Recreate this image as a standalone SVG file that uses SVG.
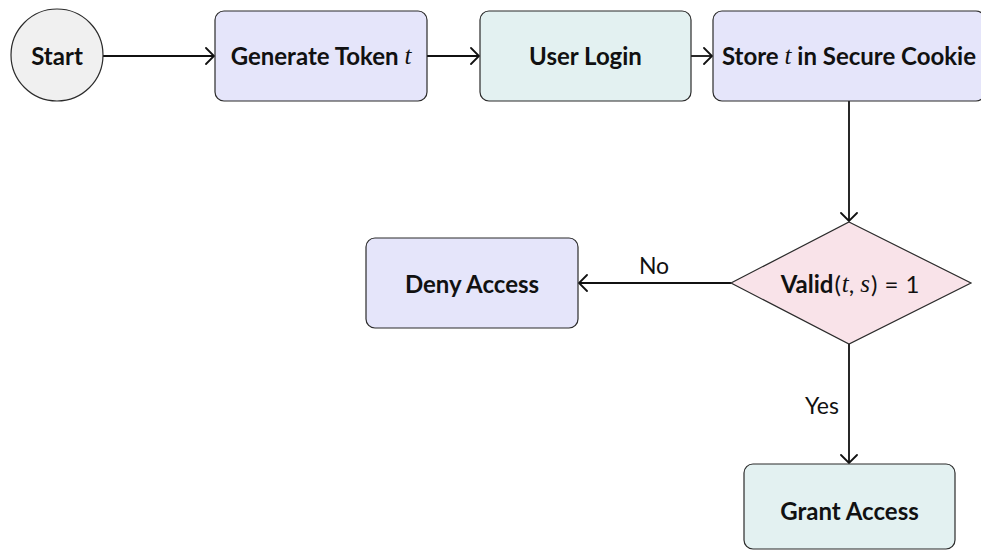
<svg xmlns="http://www.w3.org/2000/svg" width="981" height="550" viewBox="0 0 981 550">
  <style>
    .node { stroke: #2b2b2b; stroke-width: 1.2; }
    .gray { fill: #f0f0f0; }
    .lav { fill: #e5e5fa; }
    .cyan { fill: #e3f1f1; }
    .pink { fill: #f9e3e9; }
    .lbl { font-family: Lato, "Noto Sans", sans-serif; font-size: 24px; font-weight: bold; fill: #111; text-anchor: middle; dominant-baseline: central; }
    .math { font-family: "Liberation Serif", serif; font-style: italic; font-weight: normal; font-size: 25px; }
    .up { font-weight: normal; }
    .edge { stroke: #111; stroke-width: 1.8; fill: none; marker-end: url(#to); }
    .elbl { font-family: Lato, "Noto Sans", sans-serif; font-size: 23px; fill: #111; }
  </style>
  <defs>
    <!-- open, curved "to" style arrow tip -->
    <marker id="to" viewBox="-10 -9 12 18" markerWidth="12" markerHeight="18" refX="0" refY="0" orient="auto" markerUnits="userSpaceOnUse">
      <path d="M -8 -8 Q -1.5 -1.5 0 0 Q -1.5 1.5 -8 8" fill="none" stroke="#111" stroke-width="1.8" stroke-linecap="round"/>
    </marker>
  </defs>

  <g id="connectors">
    <line class="edge" x1="103" y1="56" x2="214" y2="56"/>
    <line class="edge" x1="427" y1="56" x2="479" y2="56"/>
    <line class="edge" x1="691" y1="56" x2="712" y2="56"/>
    <line class="edge" x1="849" y1="101" x2="849" y2="221"/>
    <line class="edge" x1="731" y1="283" x2="579" y2="283"/>
    <text class="elbl" x="654" y="274" text-anchor="middle">No</text>
    <line class="edge" x1="849" y1="344" x2="849" y2="463"/>
    <text class="elbl" x="822" y="414" text-anchor="middle">Yes</text>
  </g>

  <g id="start">
    <circle class="node gray" cx="57" cy="55" r="46"/>
    <text class="lbl" x="57" y="55">Start</text>
  </g>

  <g id="generate-token">
    <rect class="node lav" x="215" y="11" width="212" height="90" rx="9"/>
    <text class="lbl" x="321" y="55">Generate Token <tspan class="math">t</tspan></text>
  </g>

  <g id="user-login">
    <rect class="node cyan" x="480" y="11" width="211" height="90" rx="9"/>
    <text class="lbl" x="585.5" y="55">User Login</text>
  </g>

  <g id="store-cookie">
    <rect class="node lav" x="713" y="11" width="272" height="90" rx="9"/>
    <text class="lbl" x="849" y="55">Store <tspan class="math">t</tspan> in Secure Cookie</text>
  </g>

  <g id="validate">
    <polygon class="node pink" points="849,222 971,283 849,344 731,283"/>
    <text class="lbl" x="850" y="283">Valid<tspan class="up" dx="1">(</tspan><tspan class="math" dx="1">t</tspan><tspan class="up">, </tspan><tspan class="math">s</tspan><tspan class="up" dx="1">)</tspan><tspan class="up" dx="7">=</tspan><tspan class="up" dx="7">1</tspan></text>
  </g>

  <g id="deny-access">
    <rect class="node lav" x="366" y="238" width="212" height="90" rx="9"/>
    <text class="lbl" x="472" y="283">Deny Access</text>
  </g>

  <g id="grant-access">
    <rect class="node cyan" x="744" y="464" width="211" height="85" rx="9"/>
    <text class="lbl" x="849.5" y="510">Grant Access</text>
  </g>
</svg>
